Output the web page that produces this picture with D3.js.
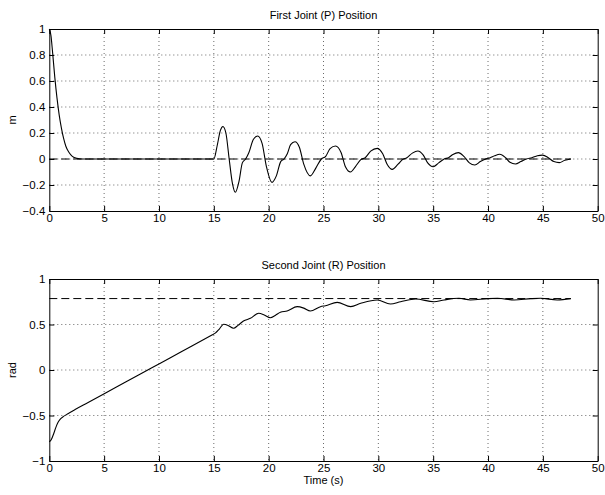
<!DOCTYPE html>
<html><head><meta charset="utf-8">
<script src="https://cdn.jsdelivr.net/npm/d3@7"></script>
<style>
body{margin:0;background:#fff;}
svg text{font-family:"Liberation Sans",Arial,sans-serif;fill:#000;}
</style></head>
<body><svg id="c" width="605" height="495"></svg>
<script>
// ---- data ----
const titles = ["First Joint (P) Position", "Second Joint (R) Position"];
const yLabels = ["m", "rad"];
const xLabel = "Time (s)";
const xTicks = [0,5,10,15,20,25,30,35,40,45,50];
const yTicksTop = [-0.4,-0.2,0,0.2,0.4,0.6,0.8,1];
const yTicksBottom = [-1,-0.5,0,0.5,1];
const refTop = 0;
const refBottom = 0.785;
const refEnd = 47.55;

const pTime = [0,0.15,0.3,0.5,0.7,0.9,1.1,1.3,1.5,1.8,2.1,2.5,3,15,15.3,15.6,15.83,16.1,16.4,16.7,16.96,17.3,17.6,17.9,18.2,18.6,19.0,19.4,19.8,20.3,20.7,21.1,21.4,21.7,22.0,22.4,22.8,23.2,23.8,24.3,24.8,25.2,25.6,26.1,26.6,27.0,27.46,27.9,28.4,28.8,29.3,29.9,30.4,30.8,31.27,31.8,32.2,32.6,33.1,33.6,34.1,34.5,35.0,35.5,36.0,36.4,36.8,37.3,37.8,38.3,38.8,39.3,39.8,40.2,40.6,41.07,41.6,42.0,42.5,43.0,43.5,44.0,44.5,44.97,45.5,46.0,46.5,47.0,47.55];
const pValue = [1,0.95,0.82,0.63,0.47,0.34,0.24,0.16,0.1,0.05,0.02,0.005,0,0,0.1,0.22,0.25,0.2,0.0,-0.19,-0.256,-0.17,-0.03,0.0,0.05,0.15,0.177,0.12,-0.06,-0.18,-0.13,-0.02,0.0,0.04,0.11,0.133,0.09,-0.04,-0.13,-0.07,0,0.02,0.08,0.10,0.05,-0.06,-0.10,-0.06,-0.005,0.01,0.06,0.082,0.04,-0.04,-0.08,-0.04,-0.005,0.01,0.045,0.062,0.03,-0.03,-0.06,-0.03,0,0.01,0.035,0.049,0.02,-0.03,-0.046,-0.02,0,0.01,0.025,0.036,0.01,-0.025,-0.038,-0.02,0,0.01,0.025,0.03,0.01,-0.02,-0.028,-0.01,0];

const rTime = [0,0.2,0.4,0.6,0.8,1.0,1.3,1.7,2.35,3.5,5.09,7,9.35,11,13,14.83,15.13,15.5,15.89,16.3,16.8,17.2,17.7,18.33,19.09,19.6,20.15,20.6,21.07,21.68,22.6,23.2,23.8,24.72,25.18,26.25,27.48,28.4,29.9,31.1,32.03,33.4,35.07,36.0,37.35,38.4,39.95,40.86,42.4,43.9,44.8,46.3,47.55];
const rValue = [-0.788,-0.76,-0.70,-0.63,-0.575,-0.54,-0.51,-0.48,-0.435,-0.36,-0.256,-0.13,0.024,0.133,0.264,0.385,0.405,0.45,0.502,0.49,0.458,0.49,0.538,0.568,0.623,0.605,0.575,0.6,0.634,0.648,0.696,0.68,0.648,0.696,0.707,0.743,0.696,0.733,0.77,0.725,0.75,0.78,0.75,0.77,0.788,0.77,0.784,0.788,0.77,0.784,0.788,0.77,0.784];

// ---- layout ----
const svg = d3.select("#c");
const L = 49.3, R = 597.7;
const panels = [
  {top:29, bot:211, yd:[-0.4,1], yt:yTicksTop, t:pTime, v:pValue, ref:refTop},
  {top:279, bot:461, yd:[-1,1], yt:yTicksBottom, t:rTime, v:rValue, ref:refBottom}
];
const x = d3.scaleLinear().domain([0,50]).range([L,R]);
const fmt = d => (d<0 ? "\u2212" + Math.abs(d) : String(d));

panels.forEach((p,i)=>{
  const y = d3.scaleLinear().domain(p.yd).range([p.bot,p.top]);
  const g = svg.append("g");
  // grid
  g.selectAll(".gx").data(xTicks.slice(1,-1)).join("line")
    .attr("x1",d=>x(d)).attr("x2",d=>x(d)).attr("y1",p.top).attr("y2",p.bot)
    .attr("stroke","#444").attr("stroke-width",0.8).attr("stroke-dasharray","1,3");
  g.selectAll(".gy").data(p.yt.slice(1,-1)).join("line")
    .attr("y1",d=>y(d)).attr("y2",d=>y(d)).attr("x1",L).attr("x2",R)
    .attr("stroke","#444").attr("stroke-width",0.8).attr("stroke-dasharray","1,3");
  // ref dashed line
  g.append("line").attr("x1",x(0)).attr("x2",x(refEnd)).attr("y1",y(p.ref)).attr("y2",y(p.ref))
    .attr("stroke","#000").attr("stroke-width",1).attr("stroke-dasharray","8,4");
  // curve
  const pts = p.t.map((t,k)=>[t,p.v[k]]);
  g.append("path").datum(pts)
    .attr("d", d3.line().x(d=>x(d[0])).y(d=>y(d[1])).curve(d3.curveMonotoneX))
    .attr("fill","none").attr("stroke","#000").attr("stroke-width",1.1);
  // axes (inside ticks)
  const ax = g.append("g").attr("transform",`translate(0,${p.bot})`)
    .call(d3.axisBottom(x).tickValues(xTicks).tickSizeInner(-5).tickSizeOuter(0).tickPadding(3).tickFormat(d3.format("d")));
  const axT = g.append("g").attr("transform",`translate(0,${p.top})`)
    .call(d3.axisTop(x).tickValues(xTicks).tickSizeInner(-5).tickSizeOuter(0).tickFormat(""));
  const ay = g.append("g").attr("transform",`translate(${L},0)`)
    .call(d3.axisLeft(y).tickValues(p.yt).tickSizeInner(-5).tickSizeOuter(0).tickPadding(4).tickFormat(fmt));
  const ayR = g.append("g").attr("transform",`translate(${R},0)`)
    .call(d3.axisRight(y).tickValues(p.yt).tickSizeInner(-5).tickSizeOuter(0).tickFormat(""));
  [ax,axT,ay,ayR].forEach(a=>{
    a.selectAll("path").attr("stroke","#000").attr("stroke-width",1);
    a.selectAll("line").attr("stroke","#000");
    a.selectAll("text").attr("font-size",11.5).attr("font-family","Liberation Sans, Arial, sans-serif").attr("fill","#000");
  });
  // title
  svg.append("text").attr("x",(L+R)/2).attr("y",p.top-10).attr("text-anchor","middle")
    .attr("font-size",11).text(titles[i]);
  // y label
  svg.append("text").attr("transform",`translate(16,${(p.top+p.bot)/2}) rotate(-90)`)
    .attr("text-anchor","middle").attr("font-size",11).text(yLabels[i]);
});
svg.append("text").attr("x",(L+R)/2).attr("y",484).attr("text-anchor","middle")
  .attr("font-size",11).text(xLabel);
</script></body></html>
